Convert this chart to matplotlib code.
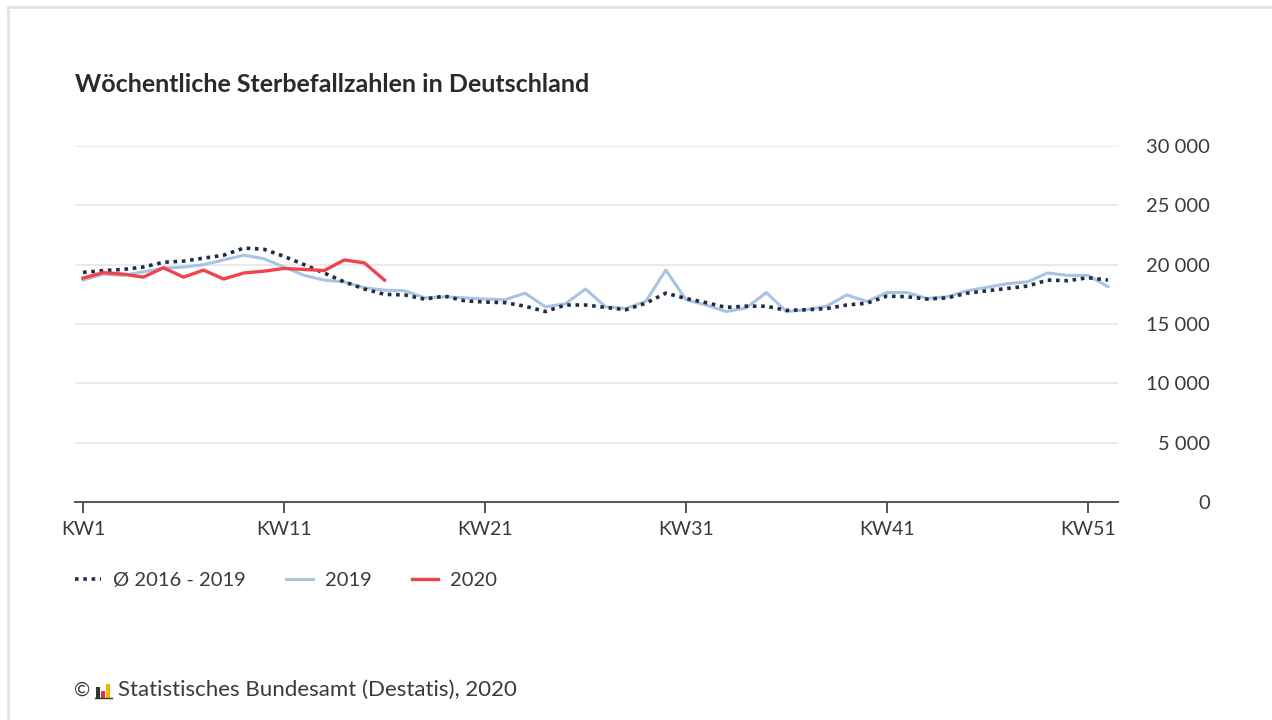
import numpy as np
import matplotlib
matplotlib.use("Agg")
import matplotlib.pyplot as plt
from matplotlib.lines import Line2D
from matplotlib.patches import Rectangle

# weekly deaths
weeks = np.arange(1, 53)
avg_16_19 = [19350, 19500, 19600, 19800, 20200, 20300, 20550, 20800, 21400, 21300,
             20700, 20000, 19300, 18550, 17950, 17500, 17450, 17100, 17350, 16950,
             16850, 16800, 16500, 16050, 16600, 16600, 16400, 16200, 16750, 17600,
             17150, 16800, 16400, 16500, 16500, 16150, 16200, 16300, 16600, 16750,
             17350, 17300, 17100, 17200, 17600, 17800, 18000, 18200, 18700, 18650,
             18900, 18700]
deaths_2019 = [18700, 19200, 19100, 19400, 19700, 19800, 20000, 20400, 20800, 20500,
               19800, 19100, 18700, 18550, 18050, 17850, 17800, 17200, 17300, 17200,
               17100, 17050, 17600, 16450, 16700, 17950, 16450, 16300, 16900, 19550,
               17050, 16600, 16050, 16350, 17650, 16050, 16200, 16500, 17450, 16900,
               17650, 17650, 17150, 17300, 17800, 18100, 18400, 18550, 19300, 19100,
               19100, 18150]
deaths_2020 = [18870, 19330, 19200, 18950, 19740, 18950, 19540, 18790, 19300, 19450,
               19680, 19600, 19500, 20400, 20150, 18700]
xticks = [1, 11, 21, 31, 41, 51]
xlabels = ["KW1", "KW11", "KW21", "KW31", "KW41", "KW51"]
yticks = [0, 5000, 10000, 15000, 20000, 25000, 30000]
ylabels = ["0", "5 000", "10 000", "15 000", "20 000", "25 000", "30 000"]

plt.rcParams['font.family'] = ['Lato', 'DejaVu Sans']
W, H = 1272, 720
fig = plt.figure(figsize=(W / 100, H / 100), dpi=100)
fig.patch.set_facecolor('white')

# card border
fig.add_artist(Line2D([8 / W, 1], [1 - 7 / H, 1 - 7 / H], color='#e3e3e3', lw=2))
fig.add_artist(Line2D([8 / W, 8 / W], [0, 1 - 7 / H], color='#e3e3e3', lw=2))

ax = fig.add_axes([75 / W, 1 - 502 / H, (1118 - 75) / W, (502 - 146) / H])
c_avg, c_19, c_20 = '#1e2f45', '#a8c4e2', '#f2424c'
dots = (0, (1, 1.3))

ax.plot(weeks, deaths_2019, color=c_19, lw=2.2, zorder=3)
ax.plot(weeks, avg_16_19, color=c_avg, lw=2.6, ls=dots, zorder=4)
ax.plot(weeks[:len(deaths_2020)], deaths_2020, color=c_20, lw=2.4, zorder=5)

ax.set_xlim(0.6, 52.5)
ax.set_ylim(0, 30000)
ax.grid(axis='y', color='#e6e6e6', lw=1.2)
ax.set_axisbelow(True)
for s in ['top', 'left', 'right']:
    ax.spines[s].set_visible(False)
ax.spines['bottom'].set_color('#555555')
ax.spines['bottom'].set_linewidth(1.4)

ax.set_xticks(xticks)
ax.set_xticklabels(xlabels)
ax.tick_params(axis='x', length=8, width=1.4, color='#555555', labelsize=14,
               labelcolor='#3a3a3a', pad=6)

ax.set_yticks(yticks)
ax.set_yticklabels(ylabels)
ax.yaxis.tick_right()
ax.tick_params(axis='y', length=0, labelsize=14.5, labelcolor='#3a3a3a', pad=66)
for t in ax.get_yticklabels():
    t.set_horizontalalignment('right')

fig.text(75 / W, 1 - 85 / H, "Wöchentliche Sterbefallzahlen in Deutschland",
         fontsize=18, fontweight='bold', color='#2a2a2a', va='center', ha='left')

handles = [Line2D([], [], color=c_avg, lw=2.6, ls=dots),
           Line2D([], [], color=c_19, lw=2.2),
           Line2D([], [], color=c_20, lw=2.4)]
fig.legend(handles, ['Ø 2016 - 2019', '2019', '2020'], ncol=3, frameon=False,
           loc='center left', bbox_to_anchor=(57 / W, 1 - 580 / H),
           fontsize=14.5, labelcolor='#3a3a3a', handlelength=1.3, handletextpad=0.6,
           columnspacing=2.0)

# footer with small logo
fig.text(74 / W, 1 - 690 / H, "©", fontsize=14, color='#3a3a3a', va='center', ha='left')
for x0, h, col in [(96, 11, '#333333'), (101, 7, '#e3323c'), (106, 14, '#f4b400')]:
    fig.add_artist(Rectangle((x0 / W, 1 - 698 / H), 4 / W, h / H,
                             transform=fig.transFigure, color=col, lw=0))
fig.add_artist(Line2D([95 / W, 112 / W], [1 - 698 / H, 1 - 698 / H], color='#333333', lw=1))
fig.text(118 / W, 1 - 690 / H, "Statistisches Bundesamt (Destatis), 2020",
         fontsize=16, color='#3a3a3a', va='center', ha='left')

fig.savefig('out.png', dpi=100, facecolor='white')
